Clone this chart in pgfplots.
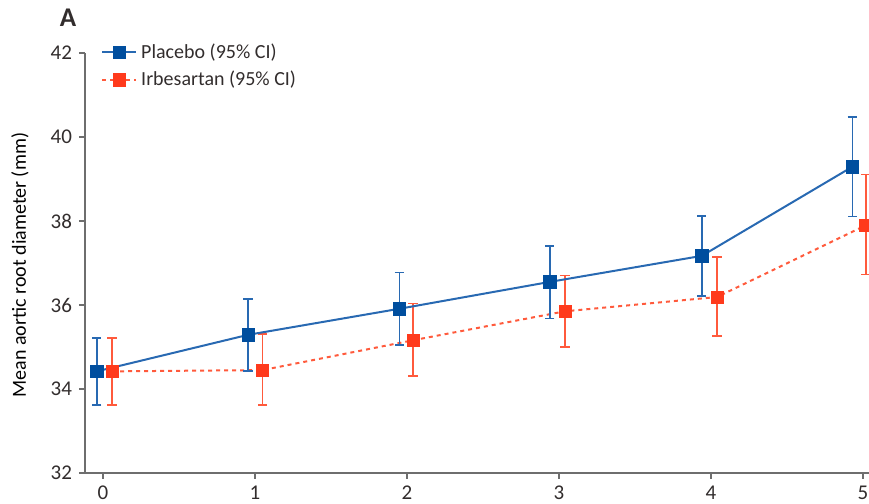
\documentclass[border=0pt]{standalone}
\usepackage{fontspec}
\setmainfont{Carlito}
\usepackage{pgfplots}
\pgfplotsset{compat=1.18}
\definecolor{bmark}{RGB}{0,78,158}
\definecolor{bline}{RGB}{40,105,178}
\definecolor{rmark}{RGB}{255,58,28}
\definecolor{rline}{RGB}{255,90,60}
\definecolor{axgray}{RGB}{110,110,110}
\definecolor{txt}{RGB}{50,45,45}
\begin{document}
\begin{tikzpicture}
\path[use as bounding box] (0,0) rectangle (434.5pt,252pt);
\node[font=\bfseries\fontsize{13.5}{15}\selectfont, text=txt] at (34pt,243pt) {A};
\begin{axis}[
  at={(42.5pt,15.5pt)}, anchor=south west,
  scale only axis, width=392pt, height=210pt,
  xmin=-0.118, xmax=5.04, ymin=32, ymax=42,
  axis lines=left, axis line style={-, axgray, line width=1.1pt},
  xtick={0,1,2,3,4,5}, ytick={32,34,36,38,40,42},
  tick align=outside, tick style={axgray, line width=1pt},
  major tick length=3pt,
  tick label style={font=\fontsize{10.5}{12}\selectfont, text=txt},
  /pgf/number format/assume math mode=true,
  ylabel={Mean aortic root diameter (mm)},
  ylabel style={font=\fontsize{9}{11}\selectfont, text=txt},
  every axis y label/.style={at={(axis description cs:-0.083,0.495)}, rotate=90, anchor=center},
  clip=false,
  legend style={draw=none, fill=none, at={(0.02,1)}, anchor=north west, yshift=7pt,
    font=\fontsize{10}{12}\selectfont, text=txt, row sep=1pt, inner sep=0pt},
  legend cell align=left,
  reverse legend,
]
\addplot[rline, dashed, dash pattern=on 2pt off 2pt, line width=1pt,
  mark=square*, mark size=3.1pt, mark options={solid, fill=rmark, draw=rmark, line width=0.3pt},
  error bars/.cd, y dir=both, y explicit,
  error bar style={rline, line width=0.7pt, solid},
  error mark options={rotate=90, mark size=2.3pt, rline, line width=0.7pt, solid}]
  table[x=x, y=y, y error plus=ep, y error minus=em] {
  x     y      ep    em
  0.06  34.42  0.79  0.80
  1.05  34.45  0.86  0.83
  2.04  35.16  0.87  0.85
  3.04  35.85  0.85  0.85
  4.04  36.19  0.95  0.93
  5.02  37.90  1.20  1.17
};
\addlegendentry{Irbesartan (95\% CI)}
\addplot[bline, solid, line width=1pt,
  mark=square*, mark size=3.1pt, mark options={fill=bmark, draw=bmark, line width=0.3pt},
  error bars/.cd, y dir=both, y explicit,
  error bar style={bline, line width=0.7pt},
  error mark options={rotate=90, mark size=2.3pt, bline, line width=0.7pt}]
  table[x=x, y=y, y error plus=ep, y error minus=em] {
  x      y      ep    em
  -0.04  34.42  0.79  0.80
  0.955  35.29  0.85  0.86
  1.95   35.91  0.86  0.86
  2.94   36.55  0.85  0.87
  3.94   37.17  0.95  0.96
  4.93   39.29  1.19  1.18
};
\addlegendentry{Placebo (95\% CI)}
\end{axis}
\end{tikzpicture}
\end{document}
